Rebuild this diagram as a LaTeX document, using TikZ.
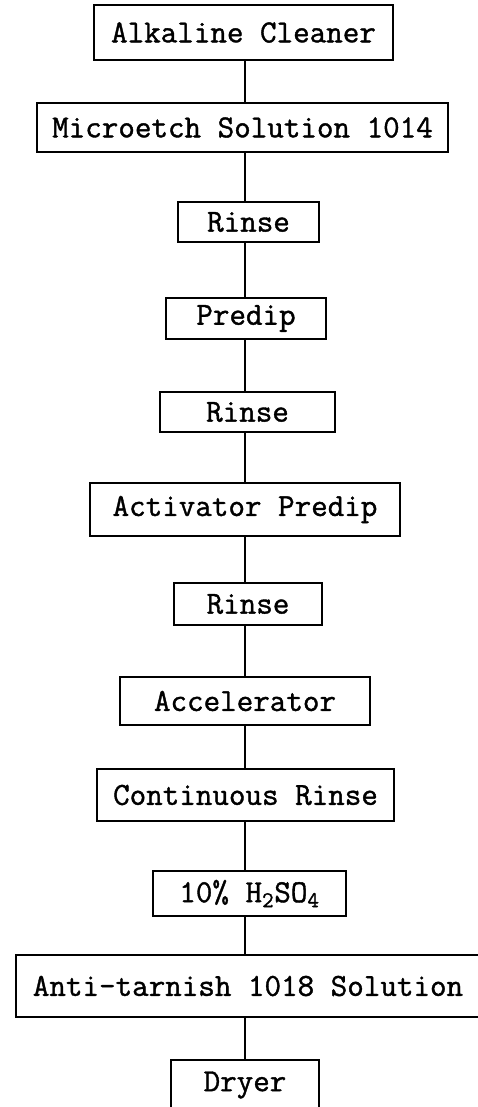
\documentclass[tikz,border=0pt]{standalone}
\usepackage{fontspec}
\setmonofont{Latin Modern Mono}[FakeBold=1.2]
\begin{document}
\begin{tikzpicture}[x=0.75pt,y=-0.75pt,
  stage/.style={draw, line width=1.5pt, rectangle, inner sep=0pt,
    font=\ttfamily\fontsize{24.1}{27}\selectfont},
  wh/.style 2 args={minimum width=#1*0.75pt, minimum height=#2*0.75pt},
  link/.style={line width=1.5pt}]
\useasboundingbox (0,0) rectangle (478,1107);
\clip (0,0) rectangle (478,1107);
\coordinate (spine) at (245,0);
\node[stage, wh={299}{55}] (n1) at (243.5,32.5) {Alkaline Cleaner};
\node[stage, wh={411}{49}] (n2) at (242.5,127.5) {Microetch Solution 1014};
\node[stage, wh={141}{40}] (n3) at (248.5,222) {Rinse};
\node[stage, wh={160}{41}] (n4) at (246,318.5) {Predip};
\node[stage, wh={175}{40}] (n5) at (247.5,412) {Rinse};
\node[stage, wh={310}{53}] (n6) at (245,509.5) {Activator Predip};
\node[stage, wh={148}{42}] (n7) at (248,604) {Rinse};
\node[stage, wh={250}{48}] (n8) at (245,701) {Accelerator};
\node[stage, wh={297}{52}] (n9) at (245.5,795) {Continuous Rinse};
\node[stage, wh={193}{45}] (n10) at (249.5,893.5) {10\% H\textsubscript{2}SO\textsubscript{4}};
\node[stage, wh={464}{62}] (n11) at (248,986) {Anti-tarnish 1018 Solution};
\node[stage, wh={148}{50}] (n12) at (245,1085) {Dryer};
\foreach \a/\b in {n1/n2,n2/n3,n3/n4,n4/n5,n5/n6,n6/n7,n7/n8,n8/n9,n9/n10,n10/n11,n11/n12}
  \draw[link] (\a.south -| spine) -- (\b.north -| spine);
\end{tikzpicture}
\end{document}
